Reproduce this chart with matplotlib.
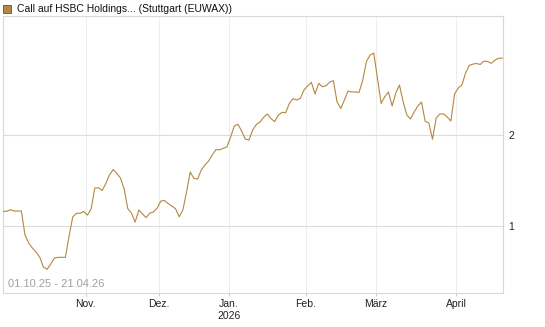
import numpy as np
import matplotlib.pyplot as plt
from matplotlib.patches import Rectangle

plt.rcParams['font.family'] = ['Liberation Sans', 'DejaVu Sans']

# Kurs je Handelstag, 01.10.25 - 21.04.26
kurs = [1.162, 1.162, 1.179, 1.165, 1.165, 1.165, 0.90, 0.813, 0.758, 0.714,
        0.659, 0.549, 0.524, 0.582, 0.648, 0.656, 0.656, 0.656, 0.89, 1.10,
        1.14, 1.14, 1.16, 1.12, 1.187, 1.418, 1.42, 1.39, 1.467, 1.56,
        1.62, 1.58, 1.527, 1.407, 1.19, 1.143, 1.043, 1.176, 1.132, 1.093,
        1.143, 1.154, 1.198, 1.275, 1.28, 1.247, 1.22, 1.19, 1.102, 1.176,
        1.374, 1.593, 1.524, 1.516, 1.615, 1.67, 1.714, 1.78, 1.84, 1.838,
        1.854, 1.868, 1.978, 2.099, 2.118, 2.044, 1.956, 1.945, 2.055, 2.115,
        2.143, 2.195, 2.231, 2.181, 2.146, 2.22, 2.249, 2.245, 2.348, 2.40,
        2.385, 2.403, 2.495, 2.542, 2.579, 2.451, 2.568, 2.531, 2.542, 2.582,
        2.597, 2.363, 2.291, 2.385, 2.484, 2.473, 2.473, 2.469, 2.604, 2.808,
        2.879, 2.90, 2.626, 2.348, 2.421, 2.473, 2.319, 2.462, 2.549, 2.366,
        2.22, 2.176, 2.253, 2.319, 2.363, 2.151, 2.132, 1.953, 2.187, 2.231,
        2.231, 2.198, 2.154, 2.451, 2.516, 2.549, 2.681, 2.764, 2.78, 2.786,
        2.775, 2.813, 2.808, 2.788, 2.824, 2.843, 2.846]

# Monatsgrenzen (Handelstag-Index)
monat_pos = [22.5, 42.5, 61.5, 82.5, 101.5, 123.5]
monat_txt = ['Nov.', 'Dez.', 'Jan.\n2026', 'Feb.', 'März', 'April']
y_ticks = [1, 2]

fig = plt.figure(figsize=(5.45, 3.27), dpi=100)
ax = fig.add_axes([3/545, 34/327, 500/545, 277/327])

x = np.arange(len(kurs))
ax.plot(x, kurs, color='#b5873e', lw=0.8, zorder=3)

ax.set_xlim(0, 136.2)
ax.set_ylim(0.264, 3.308)

for p in monat_pos:
    ax.axvline(p, color='#eeeeee', lw=0.8, zorder=1)
for v in y_ticks:
    ax.axhline(v, color='#dcdcdc', lw=0.8, zorder=1)

ax.set_xticks(monat_pos)
ax.set_xticklabels(monat_txt, fontsize=7.5, color='#222222', linespacing=1.3)
ax.tick_params(axis='x', length=2, color='#cccccc', pad=2)
ax.yaxis.tick_right()
ax.set_yticks(y_ticks)
ax.set_yticklabels([str(v) for v in y_ticks], fontsize=7.5, color='#222222')
ax.tick_params(axis='y', length=0, pad=4)

for s in ax.spines.values():
    s.set_color('#d8d8d8')
    s.set_linewidth(0.8)

ax.text(0.01, 0.015, '01.10.25 - 21.04.26', transform=ax.transAxes,
        fontsize=8, color='#a0a0a0', ha='left', va='bottom')

fig.patches.append(Rectangle((3/545, 1 - 13/327), 8/545, 8/327, transform=fig.transFigure,
                             facecolor='#b5874a', edgecolor='#555555', lw=0.6))
fig.text(17/545, 1 - 9/327, 'Call auf HSBC Holdings... (Stuttgart (EUWAX))',
         fontsize=7.5, color='#111111', ha='left', va='center')

fig.savefig('out.png', dpi=100)
